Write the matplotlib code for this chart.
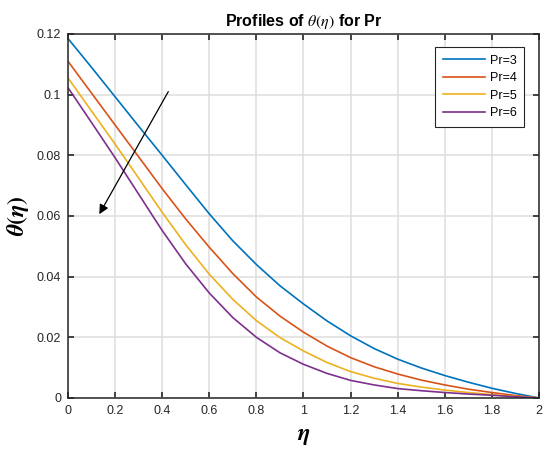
import matplotlib.pyplot as plt
import numpy as np

plt.rcParams['font.family'] = ['Liberation Sans', 'DejaVu Sans']
plt.rcParams['mathtext.fontset'] = 'stix'

# =========================================================
# data
eta = [0.0, 0.1, 0.2, 0.3, 0.4, 0.5, 0.6, 0.7, 0.8, 0.9, 1.0,
       1.1, 1.2, 1.3, 1.4, 1.5, 1.6, 1.7, 1.8, 1.9, 2.0]
theta_pr3 = [0.1185, 0.1090, 0.0993, 0.0896, 0.0800, 0.0703, 0.0607, 0.0518, 0.0440, 0.0370, 0.0310,
             0.0254, 0.0205, 0.0163, 0.0128, 0.0099, 0.0074, 0.0052, 0.0032, 0.0015, 0.0]
theta_pr4 = [0.1110, 0.1005, 0.0900, 0.0795, 0.0690, 0.0590, 0.0497, 0.0410, 0.0333, 0.0270, 0.0217,
             0.0171, 0.0133, 0.0103, 0.0079, 0.0059, 0.0043, 0.0029, 0.0018, 0.0008, 0.0]
theta_pr5 = [0.1055, 0.0946, 0.0837, 0.0725, 0.0612, 0.0505, 0.0408, 0.0325, 0.0255, 0.0199, 0.0155,
             0.0117, 0.0087, 0.0065, 0.0048, 0.0036, 0.0026, 0.0018, 0.0011, 0.0005, 0.0]
theta_pr6 = [0.1023, 0.0908, 0.0792, 0.0672, 0.0552, 0.0442, 0.0346, 0.0265, 0.0200, 0.0149, 0.0111,
             0.0081, 0.0058, 0.0043, 0.0031, 0.0024, 0.0018, 0.0013, 0.0009, 0.0004, 0.0]
labels = ['Pr=3', 'Pr=4', 'Pr=5', 'Pr=6']
colors = ['#0072BD', '#D95319', '#EDB120', '#7E2F8E']

xticks = [0, 0.2, 0.4, 0.6, 0.8, 1, 1.2, 1.4, 1.6, 1.8, 2]
xticklabels = ['0', '0.2', '0.4', '0.6', '0.8', '1', '1.2', '1.4', '1.6', '1.8', '2']
yticks = [0, 0.02, 0.04, 0.06, 0.08, 0.1, 0.12]
yticklabels = ['0', '0.02', '0.04', '0.06', '0.08', '0.1', '0.12']

# =========================================================
fig = plt.figure(figsize=(5.43, 4.5), dpi=100)
ax = fig.add_axes([0.1252, 0.1156, 0.8674, 0.8089])

for ys, lab, c in zip([theta_pr3, theta_pr4, theta_pr5, theta_pr6], labels, colors):
    ax.plot(eta, ys, color=c, lw=1.2, label=lab)

ax.set_xlim(0, 2)
ax.set_ylim(0, 0.12)
ax.set_xticks(xticks)
ax.set_xticklabels(xticklabels)
ax.set_yticks(yticks)
ax.set_yticklabels(yticklabels)
ax.tick_params(direction='in', top=True, right=True, length=4.5, width=1.2,
               labelsize=9, colors='#262626', pad=5)
ax.grid(True, color='#dedede', lw=1.1)
for s in ax.spines.values():
    s.set_color('#262626')
    s.set_linewidth(1.1)

ax.annotate('', xy=(0.133, 0.0606), xytext=(0.426, 0.101),
            arrowprops=dict(arrowstyle='-|>', color='black', lw=0.9,
                            mutation_scale=14, shrinkA=0, shrinkB=0))

ax.set_title(r'Profiles of $\theta(\eta)$ for Pr', fontsize=11.5, fontweight='bold', pad=6)
ax.set_xlabel(r'$\boldsymbol{\eta}$', fontsize=17, labelpad=6)
ax.set_ylabel(r'$\boldsymbol{\theta(\eta)}$', fontsize=17, labelpad=4)

leg = ax.legend(loc='upper right', bbox_to_anchor=(0.968, 0.964), borderaxespad=0,
                fontsize=9, frameon=True, fancybox=False, edgecolor='#262626', framealpha=1,
                handlelength=3.4, handletextpad=0.35, borderpad=0.6, labelspacing=0.45)
leg.get_frame().set_linewidth(0.8)

plt.savefig('out.png', dpi=100)
